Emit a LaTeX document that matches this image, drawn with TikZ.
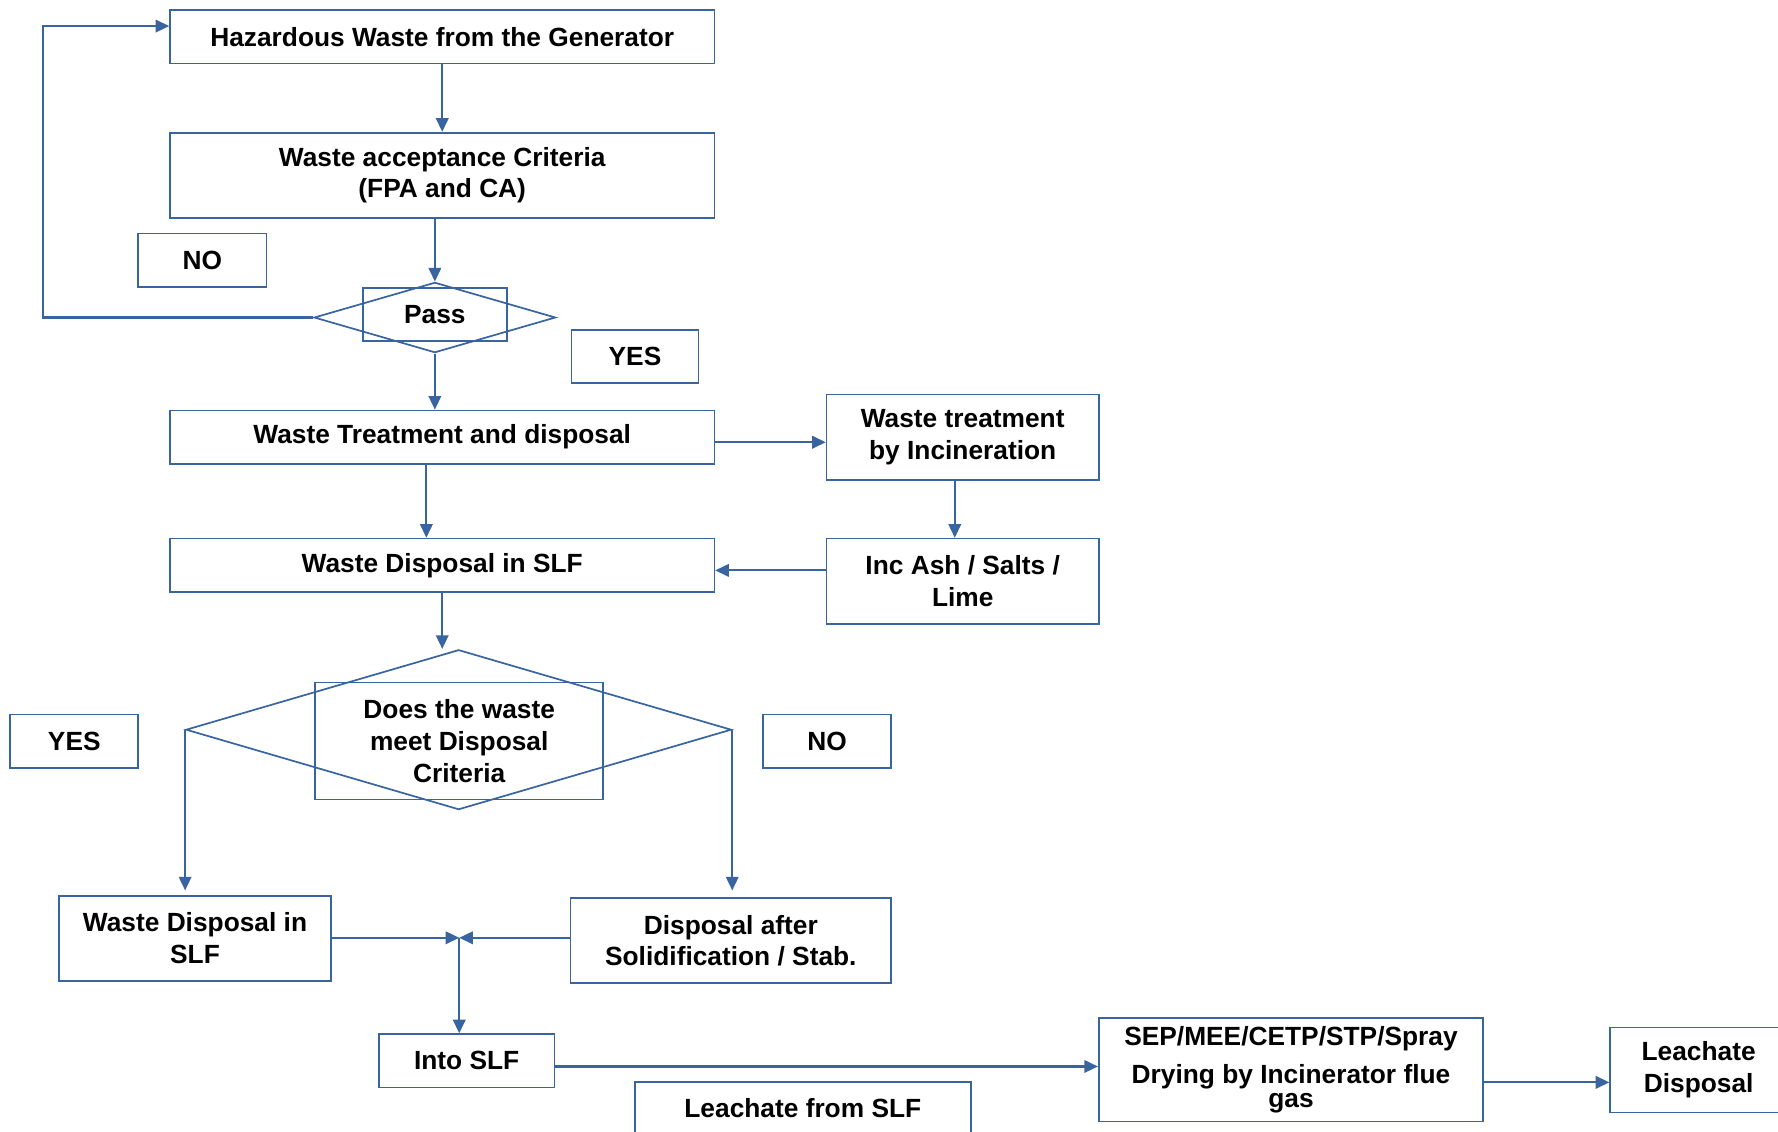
\documentclass[tikz,border=0pt]{standalone}
\usepackage{fontspec}
\setmainfont{Liberation Sans}
\usetikzlibrary{shapes.geometric,arrows.meta}
\definecolor{ln}{RGB}{56,100,160}
\begin{document}
\begin{tikzpicture}[x=0.5pt,y=-0.5pt,
  box/.style 2 args={draw=ln,line width=0.75pt,minimum width=#1*0.5pt,minimum height=#2*0.5pt,inner sep=0pt,align=center,
    font=\fontsize{11.6}{14}\selectfont\bfseries},
  dia/.style 2 args={draw=ln,line width=0.75pt,diamond,minimum width=#1*0.5pt,minimum height=#2*0.5pt,inner sep=0pt},
  arr/.style={draw=ln,line width=0.9pt,-{Triangle[length=6pt,width=5.5pt]}},
  ln/.style={draw=ln,line width=0.9pt}]
\useasboundingbox (0,0) rectangle (1568,998);
\clip (0,0) rectangle (1568,998);
% nodes
\node[box={480}{47}] (haz) at (390,32.5) {Hazardous Waste from the Generator};
\node[box={480}{75}] (wac) at (390,154.5) {Waste acceptance Criteria\\(FPA and CA)};
\node[box={113}{47}] (no1) at (178.5,229.5) {NO};
\node[dia={213}{62}] (pass) at (383.5,280) {};
\node[box={127}{47}] (passbox) at (383.5,277.5) {Pass};
\node[box={112}{47}] (yes1) at (560,314.5) {YES};
\node[box={480}{47}] (wtd) at (390,385.5) {Waste Treatment and disposal};
\node[box={240}{75}] (inc) at (849,385.5) {Waste treatment\\by Incineration};
\node[box={480}{47}] (wds) at (390,498.5) {Waste Disposal in SLF};
\node[box={240}{75}] (ash) at (849,512.5) {Inc Ash / Salts /\\Lime};
\node[dia={481}{141}] (dm) at (404.5,643.5) {};
\node[box={254}{103}] (dmbox) at (405,653.5) {Does the waste\\meet Disposal\\Criteria};
\node[box={113}{47}] (yes2) at (65.5,653.5) {YES};
\node[box={113}{47}] (no2) at (729.5,653.5) {NO};
\node[box={240}{75}] (wds2) at (172,827.5) {Waste Disposal in\\SLF};
\node[box={283}{75}] (dass) at (644.5,829.5) {Disposal after\\Solidification / Stab.};
\node[box={155}{47}] (into) at (411.5,935.5) {Into SLF};
\node[box={296}{47}] (leach) at (708,977.5) {Leachate from SLF};
\node[box={339}{91}] (sep) at (1138.5,943.5) {SEP/MEE/CETP/STP/Spray\\[2.5pt]Drying by Incinerator flue\\[-3.2pt]gas};
\node[box={156}{75}] (ld) at (1498,943.5) {Leachate\\Disposal};
% connectors
\draw[arr] (haz) -- (wac);
\draw[arr] (wac.south -| pass.north) -- (pass.north);
\coordinate (lp) at (38,280);
\draw[arr] (pass.west) -- (lp) |- ([yshift=4.75pt]haz.west);
\draw[arr] (pass.south) -- (pass.south |- wtd.north);
\draw[arr] ([yshift=-2.25pt]wtd.east) -- ([yshift=-2.25pt]inc.west);
\draw[arr] ([xshift=-7pt]wtd.south) -- ([xshift=-7pt]wds.north);
\draw[arr] ([xshift=-3.5pt]inc.south) -- ([xshift=-3.5pt]ash.north);
\draw[arr] ([yshift=4.75pt]ash.west) -- ([yshift=-2.25pt]wds.east);
\draw[arr] (wds.south) -- (wds.south |- dm.north);
\draw[arr] (dm.west) -- ([yshift=2pt]dm.west |- wds2.north);
\draw[arr] (dm.east) -- ([yshift=3pt]dm.east |- dass.north);
\coordinate (jn) at (405,827);
\draw[arr] (wds2.east |- jn) -- (jn);
\draw[arr] (dass.west |- jn) -- (jn);
\draw[arr] (jn) -- (jn |- into.north);
\path ([yshift=-2.5pt]into.east) coordinate (ie);
\draw[arr] (ie) -- (ie -| sep.west);
\path ([yshift=-5.5pt]sep.east) coordinate (se);
\draw[arr] (se) -- (se -| ld.west);
\end{tikzpicture}
\end{document}
